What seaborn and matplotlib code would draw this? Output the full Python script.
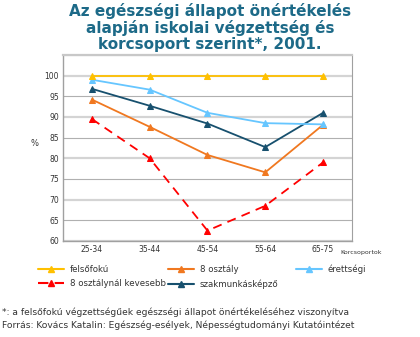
import matplotlib
matplotlib.use("Agg")
import matplotlib.pyplot as plt
import seaborn as sns
import pandas as pd
from matplotlib.lines import Line2D

age_groups = ["25-34", "35-44", "45-54", "55-64", "65-75"]
felsofoku = [100, 100, 100, 100, 100]
osztaly8 = [94.2, 87.6, 80.8, 76.6, 88.1]
erettsegi = [99.0, 96.6, 91.0, 88.5, 88.2]
kevesebb = [89.5, 80.0, 62.5, 68.5, 79.0]
szakmunkas = [96.8, 92.7, 88.4, 82.7, 91.0]

series_names = ["felsőfokú", "8 osztály", "érettségi",
                "8 osztálynál kevesebb", "szakmunkásképző"]
series_values = [felsofoku, osztaly8, erettsegi, kevesebb, szakmunkas]
colors = {
    "felsőfokú": "#ffc000",
    "8 osztály": "#f07820",
    "érettségi": "#66c6ff",
    "8 osztálynál kevesebb": "#ff0000",
    "szakmunkásképző": "#17506e",
}
dashed = {"8 osztálynál kevesebb"}

rows = []
for name, vals in zip(series_names, series_values):
    for i, v in enumerate(vals):
        rows.append({"pos": i, "group": age_groups[i], "value": v, "series": name})
df = pd.DataFrame(rows)

sns.set_theme(style="white")
plt.rcParams["font.family"] = ["DejaVu Sans"]

fig = plt.figure(figsize=(4.2, 3.37), dpi=100)
ax = fig.add_axes([0.15, 0.285, 0.688, 0.552])

# horizontal gridlines, alternating weights
for yv in range(60, 106, 5):
    if yv % 10 == 0:
        ax.axhline(yv, color="#d4d4d4", lw=1.6, zorder=0)
    else:
        ax.axhline(yv, color="#b0b0b0", lw=0.8, zorder=0)

# draw order so the red dashed line sits at the back
draw_order = ["8 osztálynál kevesebb", "szakmunkásképző", "8 osztály", "érettségi", "felsőfokú"]
for name in draw_order:
    sub = df[df["series"] == name]
    sns.lineplot(data=sub, x="pos", y="value", ax=ax, color=colors[name],
                 lw=1.3, marker="^", markersize=5, markeredgecolor=colors[name],
                 linestyle=(0, (5, 3.5)) if name in dashed else "-",
                 legend=False, zorder=3)

ax.set_xlim(-0.5, 4.5)
ax.set_ylim(60, 105)
ax.set_yticks(range(60, 101, 5))
ax.set_xticks(range(5))
ax.set_xticklabels(age_groups)
ax.set_xticks([0.5, 1.5, 2.5, 3.5], minor=True)
ax.tick_params(axis="both", which="both", labelsize=5.5, labelcolor="#333333",
               length=0, pad=3)
ax.tick_params(axis="x", which="minor", length=3, color="#999999", direction="out")
ax.set_xlabel("")
ax.set_ylabel("%", fontsize=6, color="#333333", rotation=0, labelpad=7)
for side in ["left", "bottom"]:
    ax.spines[side].set_color("#a0a0a0")
    ax.spines[side].set_linewidth(1.0)
ax.spines["top"].set_color("#c8c8c8")
ax.spines["top"].set_linewidth(1.6)
ax.spines["right"].set_color("#a0a0a0")
ax.spines["right"].set_linewidth(0.8)

fig.text(0.81, 0.25, "Korcsoportok", fontsize=4.5, color="#333333", va="center", ha="left")

# title
title_lines = ["Az egészségi állapot önértékelés",
               "alapján iskolai végzettség és",
               "korcsoport szerint*, 2001."]
for i, line in enumerate(title_lines):
    fig.text(0.5, 1 - (11 + i * 17) / 337, line, ha="center", va="center",
             fontsize=11, fontweight="heavy", color="#1d6a88")

# legend, laid out as three fixed columns
def handle(name):
    return Line2D([], [], color=colors[name], lw=1.5, marker="^", markersize=4.5,
                  linestyle=(0, (5, 3)) if name in dashed else "-", label=name)

legend_columns = [
    (38, ["felsőfokú", "8 osztálynál kevesebb"]),
    (168, ["8 osztály", "szakmunkásképző"]),
    (296, ["érettségi"]),
]
for x_px, names in legend_columns:
    fig.legend(handles=[handle(n) for n in names], loc="upper left",
               bbox_to_anchor=(x_px / 420, 1 - 265 / 337), ncol=1,
               frameon=False, fontsize=6.2, handlelength=3.0, borderaxespad=0,
               borderpad=0, labelspacing=0.6, handletextpad=0.7, labelcolor="#333333")

fig.text(0.005, 1 - 312 / 337, "*: a felsőfokú végzettségűek egészségi állapot önértékeléséhez viszonyítva",
         fontsize=6.6, color="#333333", ha="left", va="center")
fig.text(0.005, 1 - 325 / 337, "Forrás: Kovács Katalin: Egészség-esélyek, Népességtudományi Kutatóintézet",
         fontsize=6.6, color="#333333", ha="left", va="center")

fig.savefig("out.png", dpi=100)
